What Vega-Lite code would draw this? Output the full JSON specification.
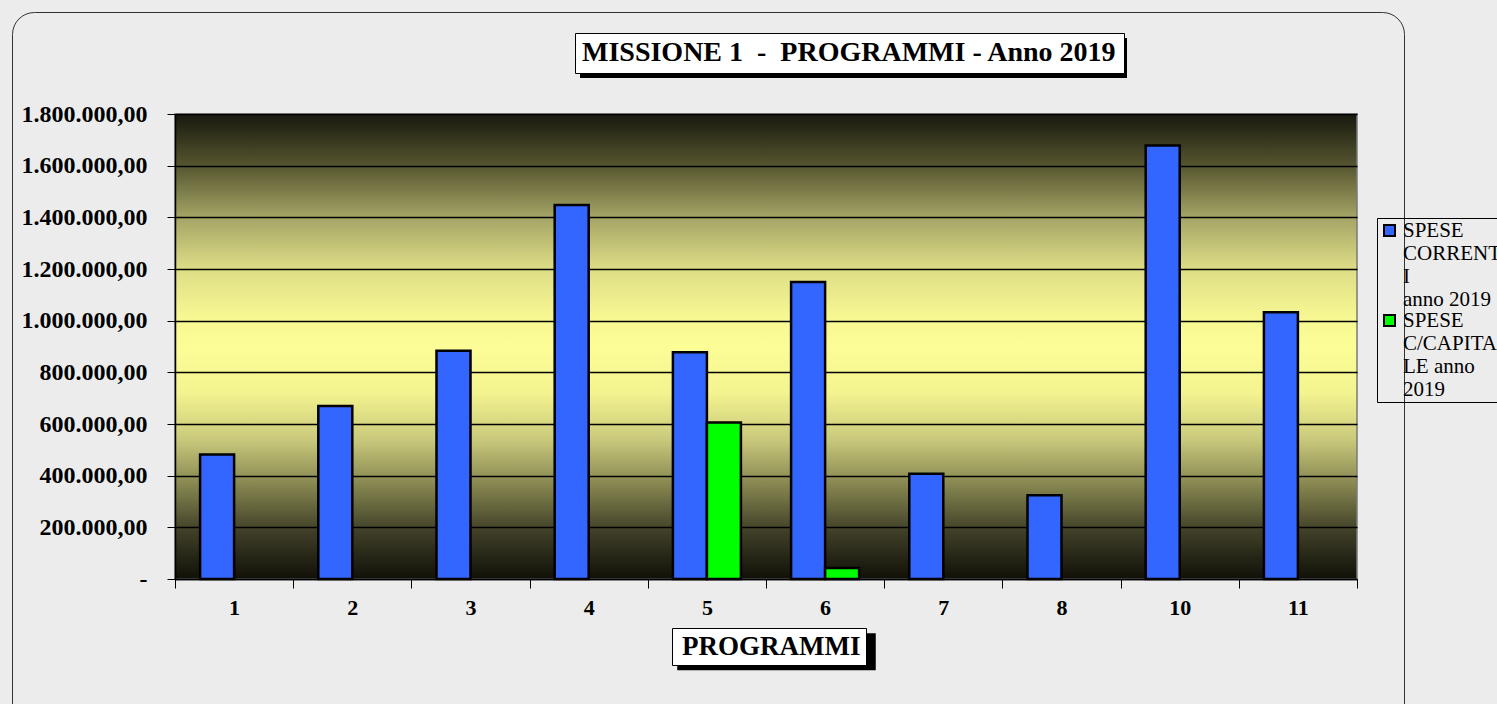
{
  "$schema": "https://vega.github.io/schema/vega-lite/v6.json",
  "width": 1182,
  "height": 465,
  "autosize": "none",
  "padding": {"left": 175, "top": 114, "right": 140, "bottom": 125},
  "background": "#ececec",
  "view": {
    "stroke": "#7a7a7a",
    "strokeWidth": 1.5,
    "fill": {
      "gradient": "linear",
      "x1": 0, "y1": 0, "x2": 0, "y2": 1,
      "stops": [
        {"offset": 0, "color": "#18180f"},
        {"offset": 0.11, "color": "#55552f"},
        {"offset": 0.22, "color": "#a3a365"},
        {"offset": 0.33, "color": "#dcdc86"},
        {"offset": 0.44, "color": "#f8f893"},
        {"offset": 0.5, "color": "#fdfd98"},
        {"offset": 0.6, "color": "#f3f38f"},
        {"offset": 0.7, "color": "#c9c97c"},
        {"offset": 0.8, "color": "#84844f"},
        {"offset": 0.9, "color": "#3e3e27"},
        {"offset": 1, "color": "#101008"}
      ]
    }
  },
  "config": {
    "locale": {"number": {"decimal": ",", "thousands": ".", "grouping": [3], "currency": ["€", ""]}},
    "font": "Liberation Serif"
  },
  "data": {
    "values": [
      {"programma": "1", "serie": "SPESE CORRENTI anno 2019", "importo": 482000},
      {"programma": "2", "serie": "SPESE CORRENTI anno 2019", "importo": 670000},
      {"programma": "3", "serie": "SPESE CORRENTI anno 2019", "importo": 884000},
      {"programma": "4", "serie": "SPESE CORRENTI anno 2019", "importo": 1448000},
      {"programma": "5", "serie": "SPESE CORRENTI anno 2019", "importo": 878000},
      {"programma": "5", "serie": "SPESE C/CAPITALE anno 2019", "importo": 606000},
      {"programma": "6", "serie": "SPESE CORRENTI anno 2019", "importo": 1150000},
      {"programma": "6", "serie": "SPESE C/CAPITALE anno 2019", "importo": 43000},
      {"programma": "7", "serie": "SPESE CORRENTI anno 2019", "importo": 407000},
      {"programma": "8", "serie": "SPESE CORRENTI anno 2019", "importo": 324000},
      {"programma": "10", "serie": "SPESE CORRENTI anno 2019", "importo": 1678000},
      {"programma": "11", "serie": "SPESE CORRENTI anno 2019", "importo": 1033000}
    ]
  },
  "layer": [
    {
      "mark": {"type": "bar", "stroke": "#000000", "strokeWidth": 2.5, "color": "#000000"},
      "encoding": {
        "x": {
          "field": "programma",
          "type": "nominal",
          "scale": {"domain": ["1", "2", "3", "4", "5", "6", "7", "8", "10", "11"], "paddingInner": 0, "paddingOuter": 0},
          "axis": {
            "title": null,
            "labelAngle": 0,
            "labelFont": "Liberation Serif",
            "labelFontSize": 22,
            "labelFontWeight": "bold",
            "labelColor": "#000000",
            "labelPadding": 9,
            "tickBand": "extent",
            "tickColor": "#000000",
            "tickSize": 9,
            "domainColor": "#000000",
            "domainWidth": 1.5,
            "grid": false
          }
        },
        "xOffset": {
          "field": "serie",
          "type": "nominal",
          "scale": {"domain": ["SPESE CORRENTI anno 2019", "SPESE C/CAPITALE anno 2019"], "paddingInner": 0, "paddingOuter": 0.738}
        },
        "y": {
          "field": "importo",
          "type": "quantitative",
          "scale": {"domain": [0, 1800000], "nice": false},
          "axis": {
            "title": null,
            "values": [0, 200000, 400000, 600000, 800000, 1000000, 1200000, 1400000, 1600000, 1800000],
            "format": ",.2f",
            "labelExpr": "datum.value == 0 ? '-' : datum.label",
            "labelFont": "Liberation Serif",
            "labelFontSize": 24,
            "labelFontWeight": "bold",
            "labelColor": "#000000",
            "labelPadding": 20,
            "tickColor": "#000000",
            "tickSize": 8,
            "domainColor": "#000000",
            "domainWidth": 1.5,
            "grid": true,
            "gridColor": "#000000",
            "gridWidth": 1.6,
            "gridOpacity": 1
          }
        },
        "color": {
          "field": "serie",
          "type": "nominal",
          "scale": {"domain": ["SPESE CORRENTI anno 2019", "SPESE C/CAPITALE anno 2019"], "range": ["#3366ff", "#00ff00"]},
          "legend": {
            "title": null,
            "orient": "none",
            "legendX": 1202,
            "legendY": 104,
            "zindex": 1,
            "strokeColor": "#000000",
            "padding": 2,
            "symbolType": "square",
            "symbolSize": 121,
            "symbolStrokeColor": "#000000",
            "symbolStrokeWidth": 2,
            "symbolOpacity": 1,
            "labelFont": "Liberation Serif",
            "labelFontSize": 21,
            "labelColor": "#000000",
            "labelBaseline": "middle",
            "labelLimit": 300,
            "labelOffset": 3,
            "labelExpr": "datum.label == 'SPESE CORRENTI anno 2019' ? ['SPESE', 'CORRENT', 'I', 'anno 2019'] : ['SPESE', 'C/CAPITA', 'LE anno', '2019']",
            "rowPadding": -24
          }
        },
        "opacity": {
          "datum": "t1",
          "type": "nominal",
          "scale": {"range": [1, 1]},
          "legend": {
            "title": null,
            "orient": "none",
            "legendX": 400,
            "legendY": -81,
            "zindex": 2,
            "fillColor": "#ffffff",
            "strokeColor": "#000000",
            "padding": 6,
            "symbolSize": 0,
            "symbolStrokeWidth": 0,
            "labelOffset": -27,
            "labelFont": "Liberation Serif",
            "labelFontSize": 28,
            "labelFontWeight": "bold",
            "labelColor": "#000000",
            "labelLimit": 800,
            "labelExpr": "'MISSIONE 1\u00a0\u00a0-\u00a0\u00a0PROGRAMMI - Anno 2019'"
          }
        },
        "stroke": {
          "datum": "t2",
          "type": "nominal",
          "scale": {"range": ["#000000"]},
          "legend": {
            "title": null,
            "orient": "none",
            "legendX": 405,
            "legendY": -76,
            "zindex": 0,
            "padding": 0,
            "symbolType": "M-1,-1H1V-0.8537H-1Z",
            "symbolSize": 299209,
            "symbolFillColor": "#000000",
            "symbolStrokeColor": "#000000",
            "symbolStrokeWidth": 0,
            "symbolOpacity": 1,
            "labelFontSize": 10,
            "labelExpr": "''"
          }
        },
        "strokeDash": {
          "datum": "t3",
          "type": "nominal",
          "scale": {"range": [[1, 0]]},
          "legend": {
            "title": null,
            "orient": "none",
            "legendX": 497,
            "legendY": 514,
            "zindex": 2,
            "fillColor": "#ffffff",
            "strokeColor": "#000000",
            "padding": 5,
            "symbolSize": 0,
            "symbolStrokeWidth": 0,
            "labelOffset": -22,
            "labelFont": "Liberation Serif",
            "labelFontSize": 27,
            "labelFontWeight": "bold",
            "labelColor": "#000000",
            "labelLimit": 400,
            "labelExpr": "'\u00a0PROGRAMMI\u00a0'"
          }
        },
        "strokeWidth": {
          "datum": "t4",
          "type": "nominal",
          "scale": {"range": [2.5, 2.5]},
          "legend": {
            "title": null,
            "orient": "none",
            "legendX": 502,
            "legendY": 519,
            "zindex": 0,
            "padding": 0,
            "symbolType": "M-1,-1H1V-0.648H-1Z",
            "symbolSize": 38416,
            "symbolFillColor": "#000000",
            "symbolStrokeColor": "#000000",
            "symbolOpacity": 1,
            "labelFontSize": 10,
            "labelExpr": "''"
          }
        }
      }
    },
    {
      "mark": {"type": "point", "opacity": 0},
      "encoding": {
        "shape": {
          "datum": "t5",
          "type": "nominal",
          "scale": {"range": ["circle"]},
          "legend": {
            "title": null,
            "orient": "none",
            "legendX": -163,
            "legendY": -102,
            "zindex": 0,
            "strokeColor": "#333333",
            "cornerRadius": 22,
            "padding": 0,
            "symbolType": "M-1,-1H1.2V0H-1Z",
            "symbolSize": 1926544,
            "symbolStrokeWidth": 0,
            "symbolOpacity": 0,
            "labelFontSize": 10,
            "labelExpr": "''"
          }
        }
      }
    }
  ]
}
